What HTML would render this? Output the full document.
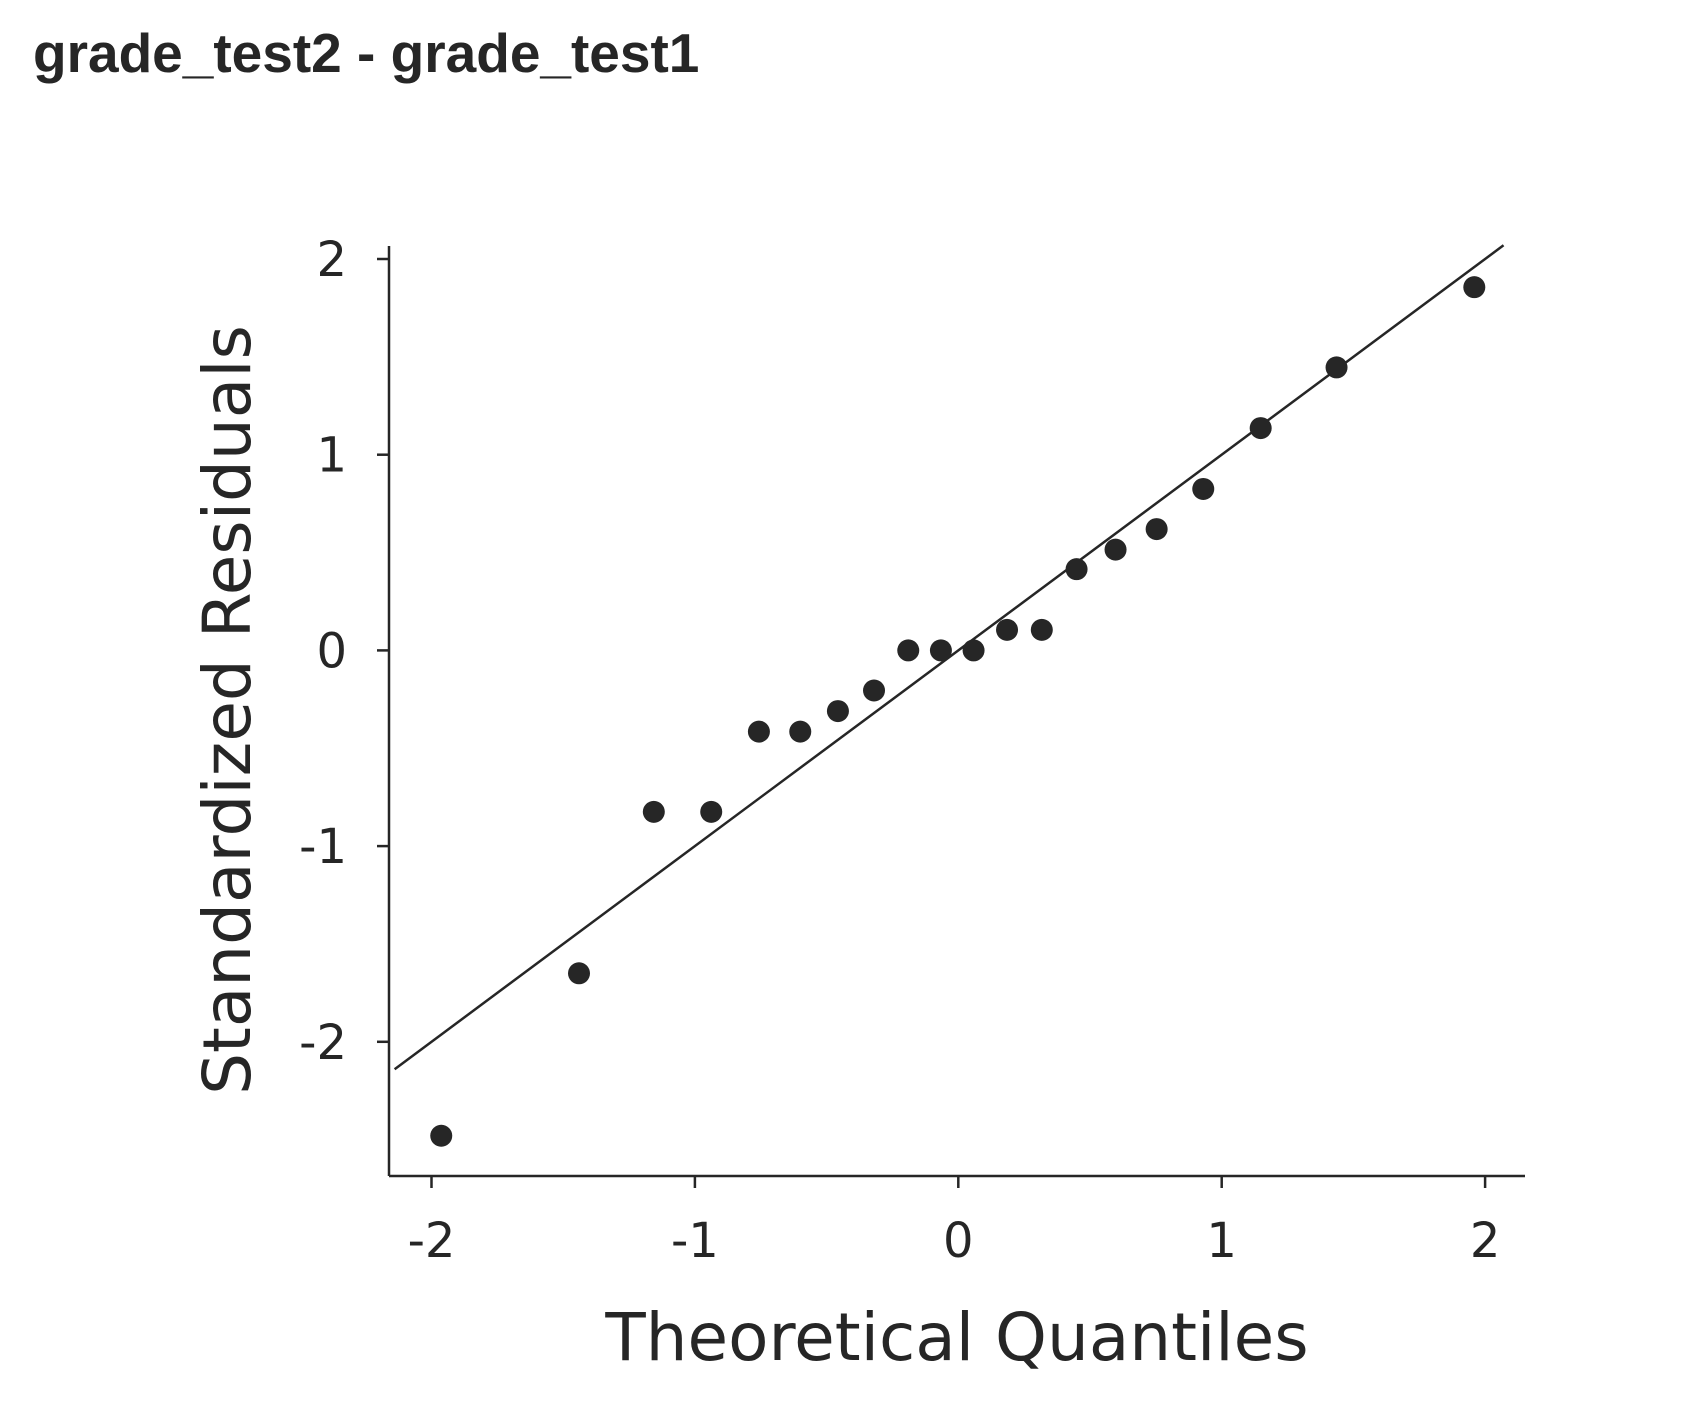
<!DOCTYPE html>
<html><head><meta charset="utf-8"><style>
body{margin:0;background:#fff;width:1698px;height:1420px;overflow:hidden}
svg text{fill:#262626}
</style></head><body>
<svg width="1698" height="1420">
<text x="33" y="72" font-family="Liberation Sans, sans-serif" font-weight="bold" font-size="55">grade_test2 - grade_test1</text>
<g id="plot"></g>
</svg>
<script>
const xs=[-1.963,-1.44,-1.156,-0.938,-0.757,-0.60,-0.457,-0.32,-0.19,-0.066,0.058,0.185,0.317,0.449,0.597,0.753,0.93,1.148,1.436,1.959];
const ys=[-2.48,-1.65,-0.825,-0.825,-0.415,-0.415,-0.31,-0.205,0,0,0,0.105,0.105,0.415,0.515,0.62,0.825,1.136,1.446,1.856];
const xTicks=[-2,-1,0,1,2];
const yTicks=[-2,-1,0,1,2];
const X=v=>958.3+v*263.4, Y=v=>650.4-v*195.7;
const g=document.getElementById('plot');const NS='http://www.w3.org/2000/svg';
function el(t,a){const e=document.createElementNS(NS,t);for(const k in a)e.setAttribute(k,a[k]);g.appendChild(e);return e;}
let e;
e=el('line',{x1:389,y1:246,x2:389,y2:1176,stroke:'#262626','stroke-width':2.5});


e=el('line',{x1:389,y1:1176,x2:1525,y2:1176,stroke:'#262626','stroke-width':2.5});


const font='DejaVu Sans, sans-serif';
xTicks.forEach(t=>{
 e=el('line',{x1:X(t),y1:1176,x2:X(t),y2:1188,stroke:'#262626','stroke-width':2.5});
 
 
 e=el('text',{x:X(t),y:1257,'text-anchor':'middle','font-family':font,'font-size':48});
 e.textContent=t<0?'-'+Math.abs(t):String(t);
 
 
});
yTicks.forEach(t=>{
 e=el('line',{x1:377,y1:Y(t),x2:389,y2:Y(t),stroke:'#262626','stroke-width':2.5});
 
 
 e=el('text',{x:347,y:Y(t)+17,'text-anchor':'end','font-family':font,'font-size':48});
 e.textContent=t<0?'-'+Math.abs(t):String(t);
 
 
});
e=el('line',{x1:X(-2.14),y1:Y(-2.14),x2:X(2.07),y2:Y(2.07),stroke:'#262626','stroke-width':2.5});


xs.forEach((x,i)=>{
 e=el('circle',{cx:X(x),cy:Y(ys[i]),r:11,fill:'#262626'});
 
 
});
e=el('text',{x:957,y:1360,'text-anchor':'middle','font-family':font,'font-size':66});
e.textContent='Theoretical Quantiles';


e=el('text',{x:0,y:0,'text-anchor':'middle','font-family':font,'font-size':66,transform:'translate(250,710) rotate(-90)'});
e.textContent='Standardized Residuals';


</script>
</body></html>
